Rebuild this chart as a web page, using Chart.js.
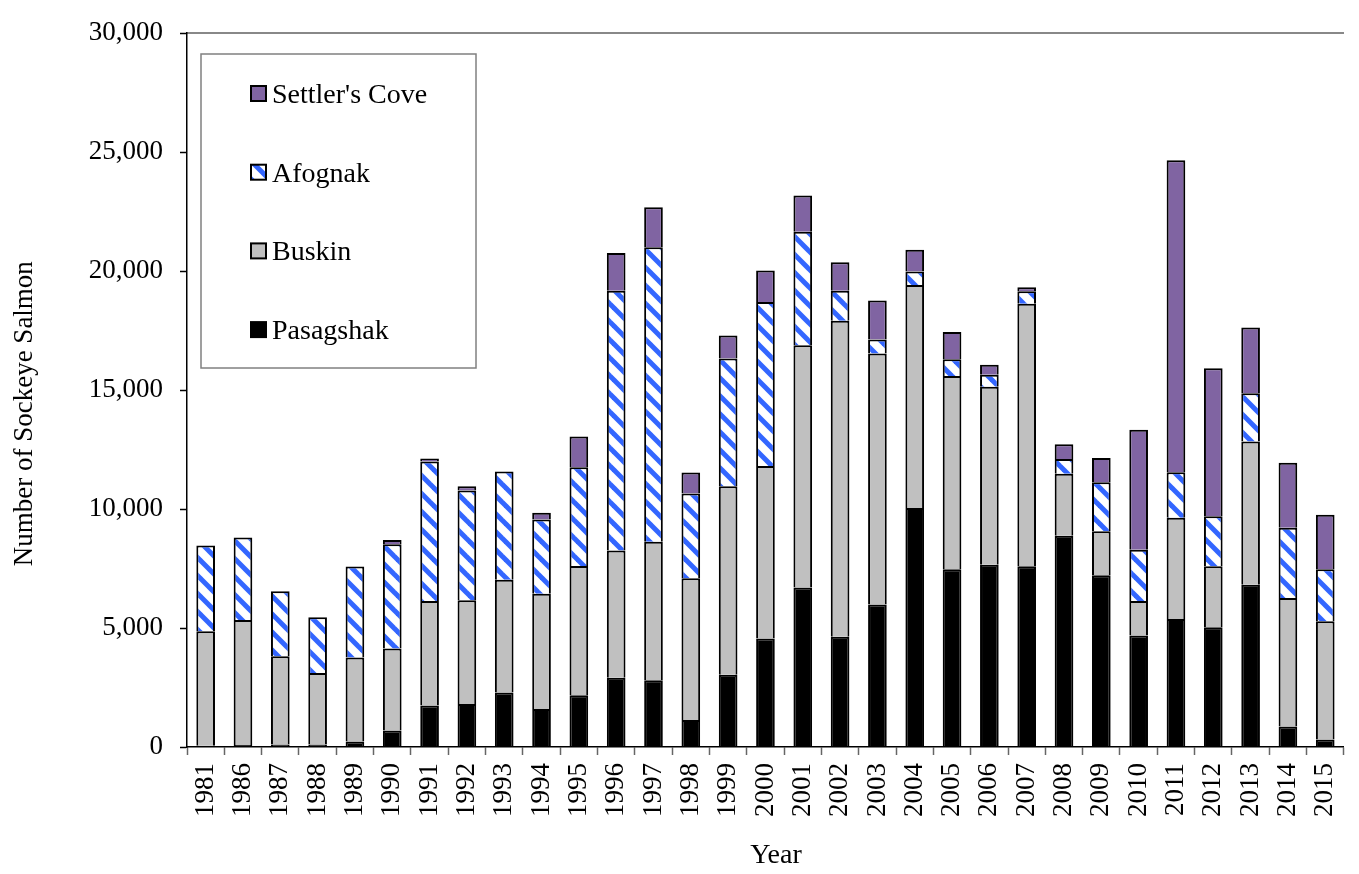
<!DOCTYPE html>
<html>
<head>
<meta charset="utf-8">
<title>Sockeye Salmon by System</title>
<script src="https://cdn.jsdelivr.net/npm/chart.js@4.4.1/dist/chart.umd.min.js"></script>
<style>
  html, body { margin: 0; padding: 0; background: #fff; overflow: hidden; }
  canvas { display: block; }
</style>
</head>
<body>
<canvas id="salmonChart" width="1366" height="874"></canvas>
<script>
var years = ['1981','1986','1987','1988','1989','1990','1991','1992','1993','1994','1995',
             '1996','1997','1998','1999','2000','2001','2002','2003','2004','2005',
             '2006','2007','2008','2009','2010','2011','2012','2013','2014','2015'];

var pasagshak = [50, 80, 110, 100, 230, 690, 1740, 1810, 2290, 1600, 2170,
                 2910, 2810, 1130, 3040, 4560, 6700, 4630, 5990, 10040, 7470,
                 7660, 7600, 8880, 7220, 4690, 5380, 5030, 6820, 860, 320];
var buskin = [4820, 5260, 3700, 3010, 3530, 3450, 4400, 4360, 4740, 4840, 5440,
              5350, 5820, 5960, 7920, 7250, 10180, 13280, 10550, 9380, 8120,
              7480, 11030, 2600, 1850, 1450, 4250, 2570, 6020, 5400, 4960];
var afognak = [3600, 3460, 2740, 2340, 3830, 4380, 5860, 4610, 4550, 3120, 4150,
               10920, 12370, 3560, 5370, 6890, 4770, 1270, 590, 560, 710,
               510, 520, 620, 2060, 2150, 1920, 2100, 2030, 2960, 2190];
var settlersCove = [0, 0, 0, 0, 0, 180, 120, 180, 0, 290, 1290,
                    1580, 1680, 890, 960, 1330, 1530, 1190, 1640, 920, 1140,
                    420, 170, 620, 1020, 5040, 13110, 6220, 2760, 2730, 2290];

var yTicks = [0, 5000, 10000, 15000, 20000, 25000, 30000];

// blue / white downward diagonal hatch for Afognak
function makeHatch() {
  var tile = document.createElement('canvas');
  tile.width = 18;
  tile.height = 18;
  var t = tile.getContext('2d');
  t.fillStyle = '#ffffff';
  t.fillRect(0, 0, 18, 18);
  t.strokeStyle = '#3366ff';
  t.lineWidth = 5;
  for (var k = -18; k <= 18; k += 18) {
    t.beginPath();
    t.moveTo(k - 3, -3);
    t.lineTo(k + 21, 21);
    t.stroke();
  }
  return t.createPattern(tile, 'repeat');
}

var ctx = document.getElementById('salmonChart').getContext('2d');
var hatch = makeHatch();

Chart.defaults.font.family = "'Liberation Serif', 'Times New Roman', serif";
Chart.defaults.color = '#000';

// boxed legend in the upper left, top series first
var boxLegend = {
  id: 'boxLegend',
  afterDraw: function(chart) {
    var c = chart.ctx;
    c.save();
    c.strokeStyle = '#808080';
    c.lineWidth = 1.5;
    c.strokeRect(201, 54, 275, 314);
    c.font = "28px 'Liberation Serif', 'Times New Roman', serif";
    c.textBaseline = 'alphabetic';
    var sets = chart.data.datasets.slice().reverse();
    sets.forEach(function(ds, i) {
      var cy = 93.5 + i * 78.7;
      c.fillStyle = ds.backgroundColor;
      c.fillRect(251, cy - 7.5, 15, 15);
      c.lineWidth = 2;
      c.strokeStyle = '#000';
      c.strokeRect(251, cy - 7.5, 15, 15);
      c.fillStyle = '#000';
      c.fillText(ds.label, 272, cy + 9.5);
    });
    c.restore();
  }
};

var salmonChart = new Chart(ctx, {
  type: 'bar',
  data: {
    labels: years,
    datasets: [
      { label: 'Pasagshak', data: pasagshak, backgroundColor: '#000000' },
      { label: 'Buskin', data: buskin, backgroundColor: '#c0c0c0' },
      { label: 'Afognak', data: afognak, backgroundColor: hatch },
      { label: "Settler's Cove", data: settlersCove, backgroundColor: '#8064a2' }
    ]
  },
  options: {
    responsive: false,
    animation: false,
    devicePixelRatio: 1,
    layout: { padding: { top: 18, left: 0, right: 3, bottom: 0 } },
    datasets: {
      bar: {
        borderColor: '#000',
        borderWidth: 2,
        barPercentage: 0.5,
        categoryPercentage: 1.0
      }
    },
    plugins: {
      legend: { display: false },
      tooltip: { enabled: false }
    },
    scales: {
      x: {
        stacked: true,
        grid: { drawOnChartArea: false, offset: true, tickLength: 8, tickColor: '#666', tickWidth: 1.5 },
        border: { color: '#000', width: 1.5 },
        ticks: { autoSkip: false, maxRotation: 90, minRotation: 90, padding: 8, font: { size: 27 } },
        title: { display: true, text: '   Year', font: { size: 28 }, padding: { top: 0, bottom: 2 } },
        afterFit: function(s) { s.height = 127; }
      },
      xTop: {
        type: 'category',
        position: 'top',
        grid: { display: false, drawTicks: false },
        ticks: { display: false },
        border: { display: true, color: '#888', width: 2 },
        afterFit: function(s) { s.height = 0; }
      },
      y: {
        stacked: true,
        min: 0,
        max: 30000,
        grid: { drawOnChartArea: false, tickLength: 7, tickColor: '#000', tickWidth: 1.5 },
        border: { color: '#000', width: 1.5 },
        afterBuildTicks: function(s) {
          s.ticks = yTicks.map(function(v) { return { value: v }; });
        },
        ticks: {
          padding: 17,
          font: { size: 27 },
          callback: function(v) { return Number(v).toLocaleString('en-US'); }
        },
        title: {
          display: true,
          text: 'Number of Sockeye Salmon       ',
          font: { size: 27 },
          padding: { top: 9, bottom: 0 }
        },
        afterFit: function(s) { s.width = 187; }
      }
    }
  },
  plugins: [boxLegend]
});
</script>
</body>
</html>
